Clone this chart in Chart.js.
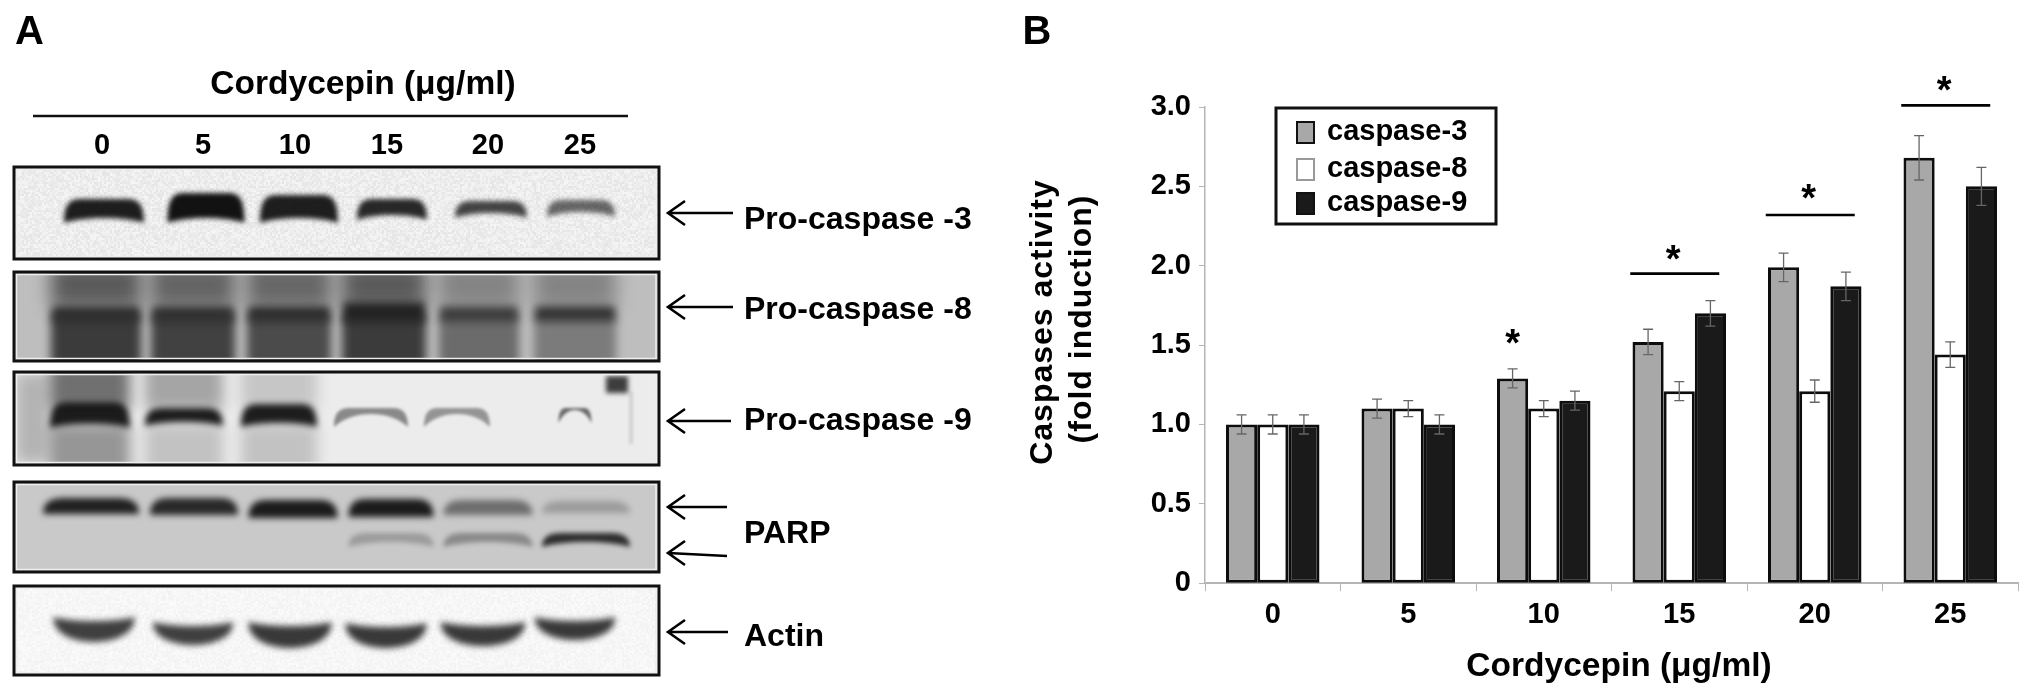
<!DOCTYPE html>
<html>
<head>
<meta charset="utf-8">
<script src="https://cdn.jsdelivr.net/npm/chart.js@4"></script>
<style>
  html, body { margin: 0; padding: 0; background: #fff; }
  canvas { position: absolute; top: 0; }
  #blots { left: 0; }
  #bars { left: 1000px; }
</style>
</head>
<body>
<canvas id="blots" width="1000" height="698"></canvas>
<canvas id="bars" width="1031" height="698"></canvas>
<script>
const FONT = '"Liberation Sans", Arial, sans-serif';

// panel B values
const doses = ['0', '5', '10', '15', '20', '25'];
const caspase3 = [1.0, 1.1, 1.29, 1.52, 1.99, 2.68];
const caspase8 = [1.0, 1.1, 1.1, 1.21, 1.21, 1.44];
const caspase9 = [1.0, 1.0, 1.15, 1.7, 1.87, 2.5];
const caspase3Err = [0.06, 0.06, 0.06, 0.08, 0.09, 0.14];
const caspase8Err = [0.06, 0.05, 0.05, 0.06, 0.07, 0.08];
const caspase9Err = [0.06, 0.06, 0.06, 0.08, 0.09, 0.12];
const xTitle = 'Cordycepin (\u03bcg/ml)';
const yTitle = ['Caspases activity', '(fold induction)'];

// panel A band darkness per lane
const proCasp3Bands = [0.95, 1, 0.95, 0.9, 0.78, 0.62];
const proCasp8Bands = [0.82, 0.8, 0.84, 0.95, 0.72, 0.82];
const proCasp8Above = [0.62, 0.56, 0.54, 0.62, 0.36, 0.36];
const proCasp8Below = [0.82, 0.78, 0.72, 0.82, 0.52, 0.42];
const proCasp9Bands = [0.95, 0.95, 0.95, 0.45, 0.4, 0.6];
const proCasp9Above = [0.6, 0.34, 0.18, 0, 0, 0];
const proCasp9Below = [0.42, 0.2, 0.2, 0, 0, 0];
const parpUpperBands = [0.92, 0.88, 0.95, 0.95, 0.5, 0.25];
const parpLowerBands = [0, 0, 0, 0.25, 0.35, 0.85];
const actinBands = [0.85, 0.85, 0.88, 0.88, 0.88, 0.88];

// flat topped band with drooping ends and a hollow underside
function archBand(ctx, x, w, top, bottom, sag, dark, blur) {
  if (dark <= 0) return;
  ctx.save();
  ctx.filter = 'blur(' + blur + 'px)';
  ctx.fillStyle = 'rgba(18,18,18,' + dark + ')';
  const hollow = bottom - sag / 0.75;
  ctx.beginPath();
  ctx.moveTo(x - w / 2, bottom);
  ctx.bezierCurveTo(x - w / 2, top + 4, x - w * 0.42, top, x - w * 0.28, top);
  ctx.lineTo(x + w * 0.28, top);
  ctx.bezierCurveTo(x + w * 0.42, top, x + w / 2, top + 4, x + w / 2, bottom);
  ctx.bezierCurveTo(x + w / 4, hollow, x - w / 4, hollow, x - w / 2, bottom);
  ctx.fill();
  ctx.restore();
}

// band that smiles: ends high, belly low
function smileBand(ctx, x, w, top, bottom, dip, dark, blur) {
  ctx.save();
  ctx.filter = 'blur(' + blur + 'px)';
  ctx.fillStyle = 'rgba(30,30,30,' + dark + ')';
  const belly = top + (bottom - top) / 0.75;
  const hollow = top + dip / 0.75;
  ctx.beginPath();
  ctx.moveTo(x - w / 2, top);
  ctx.bezierCurveTo(x - w / 4, hollow, x + w / 4, hollow, x + w / 2, top);
  ctx.bezierCurveTo(x + w / 2 + 2, belly, x - w / 2 - 2, belly, x - w / 2, top);
  ctx.fill();
  ctx.restore();
}

function smear(ctx, x, y, w, h, dark, blur) {
  if (dark <= 0) return;
  ctx.save();
  ctx.filter = 'blur(' + blur + 'px)';
  ctx.fillStyle = 'rgba(30,30,30,' + dark + ')';
  ctx.fillRect(x - w / 2, y, w, h);
  ctx.restore();
}

// film grain from a fixed hash, only a texture
function grain(ctx, x0, y0, x1, y1, strength) {
  for (let px = x0; px < x1; px += 2) {
    for (let py = y0; py < y1; py += 2) {
      const h = Math.abs(Math.sin(px * 12.9898 + py * 78.233) * 43758.5453) % 1;
      ctx.fillStyle = 'rgba(0,0,0,' + (h * strength).toFixed(3) + ')';
      ctx.fillRect(px, py, 2, 2);
    }
  }
}

function arrow(ctx, x1, y1, x2, y2) {
  ctx.strokeStyle = '#000';
  ctx.lineWidth = 2.6;
  ctx.beginPath();
  ctx.moveTo(x2, y2);
  ctx.lineTo(x1, y1);
  ctx.moveTo(x1 + 17, y1 - 12);
  ctx.lineTo(x1, y1);
  ctx.lineTo(x1 + 17, y1 + 12);
  ctx.stroke();
}

const blotPlugin = {
  id: 'blotPlugin',
  afterDraw(chart) {
    const ctx = chart.ctx;
    const X = v => chart.scales.x.getPixelForValue(v);
    const Y = v => chart.scales.y.getPixelForValue(v);

    const panel = (top, bottom, bg, inner) => {
      ctx.save();
      ctx.beginPath();
      ctx.rect(X(13), Y(top), X(660) - X(13), Y(bottom) - Y(top));
      ctx.clip();
      ctx.fillStyle = bg;
      ctx.fillRect(X(13), Y(top), X(660) - X(13), Y(bottom) - Y(top));
      inner();
      ctx.restore();
      ctx.strokeStyle = '#eee';
      ctx.lineWidth = 1.5;
      ctx.strokeRect(X(16.5), Y(top + 2.5), X(656) - X(16.5), Y(bottom - 2.5) - Y(top + 2.5));
      ctx.strokeStyle = '#111';
      ctx.lineWidth = 3;
      ctx.strokeRect(X(14), Y(top), X(659) - X(14), Y(bottom) - Y(top));
    };

    panel(167, 259, '#f6f6f6', () => {
      grain(ctx, 14, 168, 660, 259, 0.07);
      const xs = [104, 206, 299, 392, 491, 581];
      const ws = [80, 77, 78, 70, 72, 68];
      const tops = [199, 193, 195, 199, 201, 200];
      const bottoms = [223, 223, 223, 220, 218, 217];
      proCasp3Bands.forEach((d, i) => archBand(ctx, X(xs[i]), ws[i], Y(tops[i]), Y(bottoms[i]), 5, d, 2.5));
    });

    panel(272, 361, '#bebebe', () => {
      const xs = [96, 193, 289, 384, 479, 575];
      const ws = [90, 84, 84, 84, 80, 82];
      proCasp8Bands.forEach((d, i) => {
        smear(ctx, X(xs[i]), Y(262), ws[i], 46, proCasp8Above[i], 9);
        smear(ctx, X(xs[i]), Y(314), ws[i], 56, proCasp8Below[i], 5);
        smear(ctx, X(xs[i]), Y(i === 3 ? 302 : 306), ws[i] - 2, i === 3 ? 20 : 15, d, 4);
      });
    });

    panel(372, 465, '#ececec', () => {
      const xs = [90, 184, 279, 371, 457, 575];
      const ws = [80, 78, 76, 74, 66, 33];
      const tops = [402, 408, 404, 408, 408, 408];
      const bottoms = [428, 426, 427, 427, 427, 423];
      smear(ctx, X(32), Y(372), 34, 92, 0.28, 8);
      proCasp9Above.forEach((d, i) => smear(ctx, X(xs[i]), Y(362), ws[i], 48, d, 7));
      proCasp9Below.forEach((d, i) => smear(ctx, X(xs[i]), Y(424), ws[i], 50, d, 7));
      proCasp9Bands.forEach((d, i) => archBand(ctx, X(xs[i]), ws[i], Y(tops[i]), Y(bottoms[i]), d > 0.7 ? 4 : 13, d, d > 0.7 ? 3 : 1.8));
      smear(ctx, X(617), Y(376), 22, 17, 0.85, 2.5);
      smear(ctx, X(631), Y(392), 3, 52, 0.16, 1.5);
    });

    panel(482, 572, '#c9c9c9', () => {
      const xs = [91, 194, 293, 391, 488, 586];
      const ws = [96, 88, 89, 85, 89, 88];
      const tops = [498, 498, 500, 499, 500, 501];
      const bottoms = [513, 514, 517, 516, 514, 512];
      parpUpperBands.forEach((d, i) => archBand(ctx, X(xs[i]), ws[i], Y(tops[i]), Y(bottoms[i] + 1), 0, d, 3));
      parpLowerBands.forEach((d, i) => archBand(ctx, X(xs[i]), ws[i], Y(533), Y(547), 5, d, 2.5));
    });

    panel(586, 675, '#fbfbfb', () => {
      grain(ctx, 14, 587, 660, 675, 0.035);
      const xs = [94, 193, 290, 386, 483, 575];
      const ws = [81, 80, 83, 81, 84, 80];
      const tops = [617, 622, 622, 623, 622, 617];
      const bottoms = [642, 645, 648, 648, 646, 640];
      actinBands.forEach((d, i) => smileBand(ctx, X(xs[i]), ws[i], Y(tops[i]), Y(bottoms[i]), 4, d, 3));
    });

    ctx.fillStyle = '#000';
    ctx.textBaseline = 'middle';
    ctx.textAlign = 'left';
    ctx.font = 'bold 40px ' + FONT;
    ctx.fillText('A', X(15), Y(33));
    ctx.font = 'bold 33.5px ' + FONT;
    ctx.textAlign = 'center';
    ctx.fillText(xTitle, X(363), Y(85));
    ctx.font = 'bold 29px ' + FONT;
    [102, 203, 295, 387, 488, 580].forEach((x, i) => ctx.fillText(doses[i], X(x), Y(146)));
    ctx.strokeStyle = '#111';
    ctx.lineWidth = 2.6;
    ctx.beginPath();
    ctx.moveTo(X(33), Y(116));
    ctx.lineTo(X(628), Y(116));
    ctx.stroke();

    ctx.textAlign = 'left';
    ctx.font = 'bold 32px ' + FONT;
    ctx.fillText('Pro-caspase -3', X(744), Y(220));
    ctx.fillText('Pro-caspase -8', X(744), Y(310));
    ctx.fillText('Pro-caspase -9', X(744), Y(421));
    ctx.fillText('PARP', X(744), Y(534));
    ctx.fillText('Actin', X(744), Y(637));

    arrow(ctx, X(668), Y(213), X(733), Y(213));
    arrow(ctx, X(668), Y(307), X(733), Y(307));
    arrow(ctx, X(668), Y(421), X(731), Y(421));
    arrow(ctx, X(668), Y(507), X(727), Y(507));
    arrow(ctx, X(668), Y(553), X(727), Y(556));
    arrow(ctx, X(668), Y(632), X(728), Y(632));
  }
};

new Chart(document.getElementById('blots'), {
  type: 'scatter',
  data: { datasets: [] },
  options: {
    responsive: false,
    animation: false,
    layout: { padding: 0 },
    plugins: { legend: { display: false }, tooltip: { enabled: false } },
    scales: {
      x: { display: false, type: 'linear', min: 0, max: 1000 },
      y: { display: false, type: 'linear', min: 0, max: 698, reverse: true }
    }
  },
  plugins: [blotPlugin]
});

// whiskers, significance marks, legend box and the axis titles
const barExtras = {
  id: 'barExtras',
  afterDatasetsDraw(chart) {
    const ctx = chart.ctx;
    const y = chart.scales.y;
    const errs = [caspase3Err, caspase8Err, caspase9Err];

    ctx.save();
    ctx.strokeStyle = '#666';
    ctx.lineWidth = 1.3;
    chart.data.datasets.forEach((ds, d) => {
      chart.getDatasetMeta(d).data.forEach((bar, i) => {
        const hi = y.getPixelForValue(ds.data[i] + errs[d][i]);
        const lo = y.getPixelForValue(ds.data[i] - errs[d][i]);
        ctx.beginPath();
        ctx.moveTo(bar.x, hi); ctx.lineTo(bar.x, lo);
        ctx.moveTo(bar.x - 5, hi); ctx.lineTo(bar.x + 5, hi);
        ctx.moveTo(bar.x - 5, lo); ctx.lineTo(bar.x + 5, lo);
        ctx.stroke();
      });
    });
    ctx.restore();
  },
  afterDraw(chart) {
    const ctx = chart.ctx;
    const x = chart.scales.x;
    const y = chart.scales.y;
    const cat = i => x.getPixelForValue(i);
    ctx.save();
    ctx.fillStyle = '#000';
    ctx.strokeStyle = '#000';
    ctx.textAlign = 'center';
    ctx.textBaseline = 'middle';

    ctx.font = 'bold 40px ' + FONT;
    ctx.fillText('B', 37, 33);

    // stars and bars over the significant doses
    ctx.font = 'bold 38px ' + FONT;
    ctx.fillText('*', cat(2) - 31, y.getPixelForValue(1.55) + 8);
    ctx.lineWidth = 2.6;
    [[3, 1.95, 2.08], [4, 2.32, 2.46], [5, 3.01, 3.14]].forEach(s => {
      const c = cat(s[0]);
      ctx.beginPath();
      ctx.moveTo(c - 49, y.getPixelForValue(s[1]));
      ctx.lineTo(c + 40, y.getPixelForValue(s[1]));
      ctx.stroke();
      ctx.fillText('*', c - 6, y.getPixelForValue(s[2]) + 8);
    });

    // axis titles, both sit off centre in the original
    ctx.font = 'bold 33.5px ' + FONT;
    ctx.fillText(xTitle, 619, 667);
    ctx.font = 'bold 32px ' + FONT;
    ctx.letterSpacing = '1px';
    yTitle.forEach((t, i) => {
      ctx.save();
      ctx.translate(43 + i * 39, 322 - i * 3);
      ctx.rotate(-Math.PI / 2);
      ctx.fillText(t, 0, 0);
      ctx.restore();
    });
    ctx.letterSpacing = '0px';

    // legend
    ctx.strokeStyle = '#111';
    ctx.lineWidth = 3;
    ctx.strokeRect(276, 108, 220, 116);
    ctx.font = 'bold 29px ' + FONT;
    ctx.textAlign = 'left';
    chart.data.datasets.forEach((ds, d) => {
      const top = [122, 159, 193][d];
      ctx.fillStyle = ds.backgroundColor;
      ctx.strokeStyle = d === 1 ? '#999' : '#111';
      ctx.lineWidth = 2;
      ctx.fillRect(297, top, 17, 21);
      ctx.strokeRect(297, top, 17, 21);
      ctx.fillStyle = '#000';
      ctx.fillText(ds.label, 327, top + 10);
    });
    ctx.restore();
  }
};

new Chart(document.getElementById('bars'), {
  type: 'bar',
  data: {
    labels: doses,
    datasets: [
      { label: 'caspase-3', data: caspase3, backgroundColor: '#a8a8a8' },
      { label: 'caspase-8', data: caspase8, backgroundColor: '#ffffff' },
      { label: 'caspase-9', data: caspase9, backgroundColor: '#1a1a1a' }
    ]
  },
  options: {
    responsive: false,
    animation: false,
    layout: { padding: { top: 107, right: 13, bottom: 60, left: 0 } },
    datasets: {
      bar: {
        categoryPercentage: 0.69,
        barPercentage: 1,
        borderColor: '#0d0d0d',
        borderWidth: 3,
        borderSkipped: false
      }
    },
    plugins: { legend: { display: false }, tooltip: { enabled: false } },
    scales: {
      x: {
        grid: { offset: true, drawOnChartArea: false, color: '#b5b5b5', tickLength: 8, tickColor: '#b5b5b5' },
        border: { color: '#b5b5b5', width: 2 },
        ticks: { color: '#000', font: { family: FONT, size: 29, weight: 'bold' }, padding: 6 }
      },
      y: {
        min: 0,
        max: 3,
        afterFit(scale) { scale.width = 205; },
        grid: { drawOnChartArea: false, color: '#b5b5b5', tickLength: 6, tickColor: '#b5b5b5' },
        border: { color: '#b5b5b5', width: 1.5 },
        ticks: {
          stepSize: 0.5,
          color: '#000',
          font: { family: FONT, size: 29, weight: 'bold' },
          padding: 8,
          callback: v => (v === 0 ? '0' : v.toFixed(1))
        }
      }
    }
  },
  plugins: [barExtras]
});
</script>
</body>
</html>
